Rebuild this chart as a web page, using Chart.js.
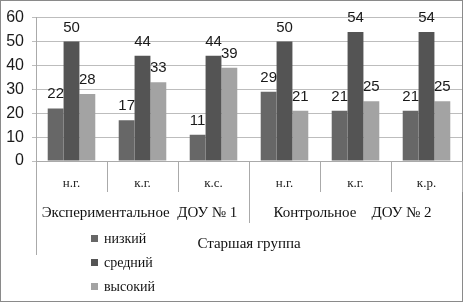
<!DOCTYPE html>
<html>
<head>
<meta charset="utf-8">
<script src="https://cdn.jsdelivr.net/npm/chart.js@4.4.0/dist/chart.umd.min.js"></script>
<style>
  body { margin: 0; background: #fff; }
  canvas { display: block; }
</style>
</head>
<body>
<canvas id="my-chart" width="463" height="302"></canvas>
<script>
const categories = ['н.г.', 'к.г.', 'к.с.', 'н.г.', 'к.г.', 'к.р.'];
const groups = ['Экспериментальное  ДОУ № 1', 'Контрольное    ДОУ № 2'];
const groupSize = 3;
const topGroup = 'Старшая группа';
const seriesNames = ['низкий', 'средний', 'высокий'];
const low = [22, 17, 11, 29, 21, 21];
const mid = [50, 44, 44, 50, 54, 54];
const high = [28, 33, 39, 21, 25, 25];
const yMax = 60;
const yStep = 10;

const colors = ['#676767', '#545454', '#a3a3a3'];
const serif = '"Liberation Serif", "Times New Roman", serif';
const sans = '"Liberation Sans", Arial, sans-serif';

// labels above bars, grouped axis labels, legend, frame
const extras = {
  id: 'extras',
  beforeDraw(chart) {
    const ctx = chart.ctx;
    ctx.save();
    ctx.strokeStyle = '#8a8a8a';
    ctx.lineWidth = 1;
    ctx.strokeRect(0.5, 0.5, chart.width - 1, chart.height - 1);
    ctx.restore();
  },
  afterDatasetsDraw(chart) {
    const ctx = chart.ctx;
    ctx.save();
    ctx.font = '15px ' + sans;
    ctx.fillStyle = '#1a1a1a';
    ctx.textAlign = 'center';
    ctx.textBaseline = 'alphabetic';
    chart.data.datasets.forEach((ds, i) => {
      chart.getDatasetMeta(i).data.forEach((bar, j) => {
        ctx.fillText(ds.data[j], bar.x, bar.y - 10);
      });
    });
    ctx.restore();
  },
  afterDraw(chart) {
    const ctx = chart.ctx;
    const x = chart.scales.x;
    const area = chart.chartArea;
    const half = (x.getPixelForValue(1) - x.getPixelForValue(0)) / 2;
    const edge = i => x.getPixelForValue(i) - half;
    ctx.save();
    ctx.strokeStyle = '#aaaaaa';
    ctx.lineWidth = 1;
    // group separators
    groups.forEach((g, k) => {
      const a = edge(k * groupSize);
      const b = edge((k + 1) * groupSize);
      if (k > 0) {
        ctx.beginPath();
        ctx.moveTo(Math.round(a) + 0.5, area.bottom);
        ctx.lineTo(Math.round(a) + 0.5, area.bottom + 62);
        ctx.stroke();
      }
      ctx.font = '15px ' + serif;
      ctx.fillStyle = '#111';
      ctx.textAlign = 'center';
      ctx.textBaseline = 'middle';
      ctx.fillText(g, (a + b) / 2 - 3, area.bottom + 52);
    });
    // outer left line
    const l = Math.round(edge(0)) + 0.5;
    ctx.beginPath();
    ctx.moveTo(l, area.bottom);
    ctx.lineTo(l, area.bottom + 94);
    ctx.stroke();
    ctx.font = '15px ' + serif;
    ctx.fillStyle = '#111';
    ctx.textAlign = 'center';
    ctx.fillText(topGroup, (edge(0) + edge(categories.length)) / 2, area.bottom + 83);
    // legend
    ctx.textAlign = 'left';
    ctx.font = '14px ' + serif;
    chart.data.datasets.forEach((ds, i) => {
      const y = 239 + i * 24;
      ctx.fillStyle = ds.backgroundColor;
      ctx.fillRect(91, y - 4, 7, 7);
      ctx.fillStyle = '#111';
      ctx.fillText(ds.label, 104, y);
    });
    ctx.restore();
  }
};

const canvas = document.getElementById('my-chart');
const chart = new Chart(canvas.getContext('2d'), {
  type: 'bar',
  data: {
    labels: categories,
    datasets: [
      { label: seriesNames[0], data: low, backgroundColor: colors[0] },
      { label: seriesNames[1], data: mid, backgroundColor: colors[1] },
      { label: seriesNames[2], data: high, backgroundColor: colors[2] }
    ]
  },
  options: {
    responsive: false,
    animation: false,
    layout: { padding: { top: 15, right: 1, left: 0, bottom: 0 } },
    datasets: {
      bar: { categoryPercentage: 0.67, barPercentage: 1.0 }
    },
    plugins: {
      legend: { display: false },
      tooltip: { enabled: false }
    },
    scales: {
      x: {
        offset: true,
        afterFit(scale) { scale.height = 141; },
        grid: {
          offset: true,
          drawOnChartArea: false,
          tickLength: 31,
          color: '#aaaaaa'
        },
        border: { color: '#aaaaaa' },
        ticks: {
          font: { family: serif, size: 13 },
          color: '#222',
          padding: -16,
          maxRotation: 0
        }
      },
      y: {
        min: 0,
        max: yMax,
        afterFit(scale) { scale.width = 36; },
        ticks: {
          stepSize: yStep,
          font: { family: sans, size: 16 },
          color: '#1a1a1a',
          padding: 8
        },
        grid: { color: '#bdbdbd', tickLength: 4 },
        border: { color: '#aaaaaa' }
      }
    }
  },
  plugins: [extras]
});
</script>
</body>
</html>
